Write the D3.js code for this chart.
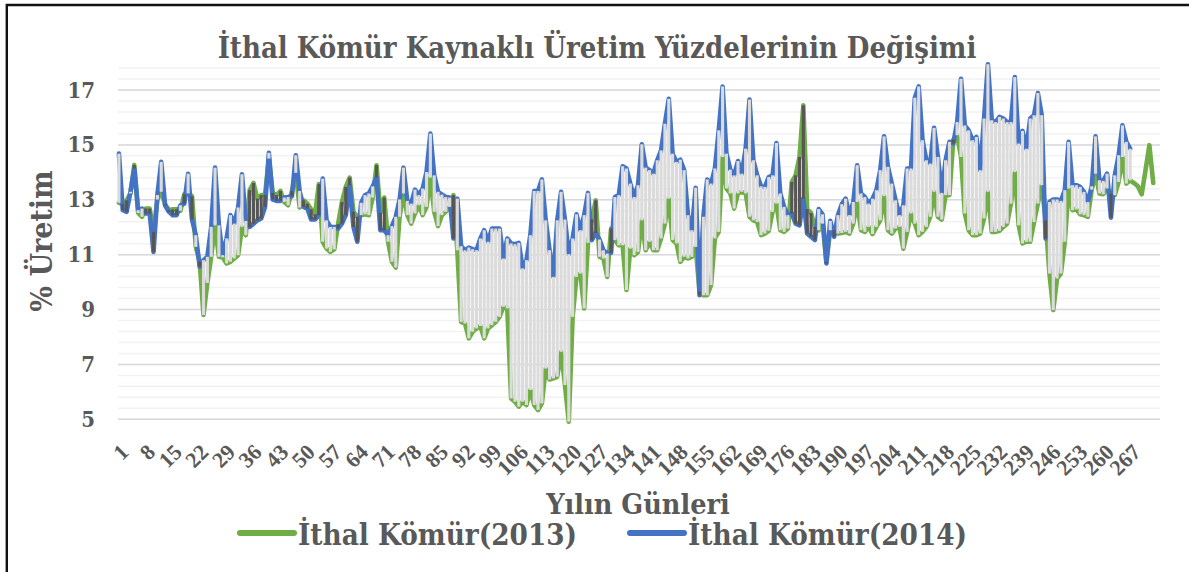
<!DOCTYPE html>
<html>
<head>
<meta charset="utf-8">
<script src="https://d3js.org/d3.v7.min.js"></script>
<style>
  html, body { margin: 0; padding: 0; background: #fff; }
  text { font-family: "DejaVu Serif Condensed", "DejaVu Serif", serif; font-weight: bold; fill: #595959; }
</style>
</head>
<body>
<div id="my_dataviz"></div>
<script>

// values, one per day
var imp2014 = [14.68,12.62,12.56,13.29,14.14,12.62,12.68,12.50,12.50,11.10,13.17,14.38,12.80,12.56,12.44,12.44,12.80,12.86,13.95,12.28,
  11.71,10.56,10.80,10.92,12.01,14.17,12.07,10.98,11.59,12.44,12.13,12.72,13.93,12.23,12.01,12.13,12.25,12.32,12.74,14.71,
  13.01,12.96,12.96,13.08,13.10,13.13,14.62,13.32,12.74,12.68,12.28,12.28,12.44,13.77,12.25,12.01,12.01,11.95,12.13,12.44,
  13.53,12.01,11.47,12.89,13.17,13.23,13.49,13.81,11.89,11.89,11.71,12.04,12.38,13.01,14.17,12.96,12.86,13.37,13.17,13.41,
  14.01,15.41,13.89,13.29,13.19,13.10,13.08,11.59,13.04,11.31,11.16,11.26,11.20,11.16,11.59,11.89,11.47,11.95,11.95,11.95,
  10.86,11.59,11.41,11.38,11.43,10.50,10.80,11.71,13.32,13.32,13.74,12.25,11.16,10.19,12.25,13.29,12.28,11.02,11.59,12.47,
  11.89,12.44,13.25,11.53,11.79,11.55,11.16,11.04,11.07,13.10,13.17,14.22,14.14,13.59,13.10,13.53,15.02,14.17,14.08,13.95,
  14.44,14.80,15.77,16.68,14.68,14.38,14.46,14.08,12.44,11.89,13.44,9.52,12.38,13.74,13.59,14.14,15.53,17.13,14.68,14.10,
  13.89,14.41,13.95,14.86,16.65,14.44,13.89,13.49,13.47,13.83,13.89,15.07,13.23,12.74,12.44,12.50,12.13,12.07,13.04,11.77,
  11.65,11.53,12.66,12.47,10.68,12.23,11.65,12.44,12.84,13.04,12.44,12.92,14.26,13.23,13.10,12.86,13.04,13.35,14.08,15.31,
  14.20,13.59,12.98,12.44,12.80,14.14,14.14,16.72,17.13,15.17,14.44,14.32,15.62,14.56,13.25,14.44,15.11,15.05,15.83,17.41,
  15.71,15.53,15.17,15.29,14.08,15.96,17.94,15.90,15.83,16.02,15.96,15.83,15.83,17.47,15.05,15.51,14.86,15.96,16.08,16.89,
  16.08,11.59,12.92,13.01,13.01,12.96,13.35,15.11,13.53,13.53,13.47,13.29,12.92,13.49,15.31,13.71,13.69,13.95,12.35,13.89,
  14.62,15.71,15.11,14.86]

var imp2013 = [12.89,12.84,12.98,13.23,14.27,12.52,12.38,12.68,12.68,11.83,13.01,13.29,12.84,12.62,12.65,12.65,12.60,13.20,13.23,13.13,
  11.28,10.74,8.80,9.97,10.92,12.07,10.92,10.90,10.68,10.74,10.86,10.98,12.01,11.71,13.35,13.61,13.04,13.17,13.17,14.50,
  13.25,13.17,13.32,12.92,12.80,13.32,13.98,12.72,12.98,12.86,12.65,12.47,13.57,11.47,11.22,11.10,11.19,12.11,12.92,13.47,
  13.81,12.56,12.38,12.44,12.47,12.44,13.08,14.26,12.52,13.08,11.47,10.74,10.53,12.38,13.23,12.44,12.13,12.50,12.80,12.44,
  12.74,13.81,12.56,12.04,12.44,12.56,12.74,13.17,11.16,8.55,8.49,7.95,8.19,8.31,8.40,7.95,8.31,8.43,8.55,8.73,
  9.10,9.04,5.76,5.64,5.46,5.64,5.52,6.07,5.52,5.34,5.58,6.85,6.45,6.49,6.55,7.46,6.25,4.91,8.73,10.19,
  10.31,9.04,11.43,12.28,12.98,10.92,10.86,10.19,11.95,11.53,11.34,11.34,9.71,11.22,10.98,11.10,12.25,11.16,11.47,11.16,
  11.16,11.59,12.13,13.04,11.53,11.41,10.74,10.92,10.86,10.92,11.28,9.65,9.52,9.52,9.89,11.59,11.83,14.56,13.41,13.23,
  12.68,13.23,13.29,13.23,12.38,12.25,12.19,11.71,11.77,11.87,12.56,12.86,11.89,11.83,11.95,13.65,13.89,14.56,16.44,12.66,
  12.52,12.01,11.89,12.13,10.74,11.89,11.89,11.77,11.79,11.83,11.77,12.13,12.92,11.89,11.83,12.01,11.75,12.01,12.25,13.13,
  11.89,11.77,11.95,12.01,11.22,11.83,12.50,12.13,11.71,11.83,12.01,12.38,13.29,12.38,12.28,13.17,13.17,15.19,15.35,14.56,
  12.50,11.89,11.71,11.71,11.77,12.32,13.29,11.83,11.83,11.87,12.01,12.13,12.86,14.01,12.07,11.41,11.47,11.47,12.19,12.86,
  13.53,12.25,10.31,8.98,10.13,10.31,11.47,13.41,12.62,12.65,12.47,12.44,12.38,13.37,13.95,13.23,13.20,13.41,13.23,13.17,
  13.65,14.56,13.59,13.71,13.61,13.49,13.20,14.08,14.99,13.61]

var nDays = 271
var xTickValues = d3.range(1, 268, 7)
var yTickValues = [5,7,9,11,13,15,17]
var minorGrid = d3.range(5, 17.9, 0.4)
var titleText = "İthal Kömür Kaynaklı Üretim Yüzdelerinin Değişimi"
var xTitle = "Yılın Günleri"
var yTitle = "% Üretim"
var legendNames = ["İthal Kömür(2013)", "İthal Kömür(2014)"]
var green = "#70AD47", blue = "#4472C4"

var width = 1189, height = 572

var svg = d3.select("#my_dataviz")
  .append("svg")
    .attr("width", width)
    .attr("height", height)
    .style("display", "block")

// black frame, only left and top are visible in the picture
svg.append("path")
  .attr("d", "M6.8,572V5H1189")
  .attr("fill", "none")
  .attr("stroke", "#111")
  .attr("stroke-width", 2.4)

var days = d3.range(1, nDays + 1)

var x = d3.scaleBand()
  .domain(days)
  .range([117, 1159])

var y = d3.scaleLinear()
  .domain([5, 17])
  .range([419.3, 90])

// gridlines
svg.append("g").selectAll("line")
  .data(minorGrid)
  .enter()
  .append("line")
    .attr("x1", 118).attr("x2", 1160)
    .attr("y1", function(d){ return y(d) })
    .attr("y2", function(d){ return y(d) })
    .attr("stroke", "#F2F2F2")
    .attr("stroke-width", 1.5)

svg.append("g").selectAll("line")
  .data(yTickValues)
  .enter()
  .append("line")
    .attr("x1", 118).attr("x2", 1160)
    .attr("y1", function(d){ return y(d) })
    .attr("y2", function(d){ return y(d) })
    .attr("stroke", "#D9D9D9")
    .attr("stroke-width", 1.5)

// Y axis
svg.append("g")
  .attr("transform", "translate(103,0)")
  .call(d3.axisLeft(y).tickValues(yTickValues).tickSize(0).tickFormat(d3.format("d")))
  .call(function(g){ g.select(".domain").remove() })
  .selectAll("text")
    .attr("x", -8)
    .style("font-size", "22px")
    .style("font-family", "'DejaVu Serif Condensed', 'DejaVu Serif', serif")
    .style("font-weight", "bold")

// X axis, labels sit a little tighter than the days themselves
var xLabel = d3.scaleLinear()
  .domain([1, 267])
  .range([121, 1133])

svg.append("g")
  .attr("transform", "translate(0,419)")
  .call(d3.axisBottom(xLabel)
    .tickValues(xTickValues)
    .tickFormat(d3.format("d"))
    .tickSize(0))
  .call(function(g){ g.select(".domain").remove() })
  .selectAll("text")
    .attr("text-anchor", "end")
    .attr("transform", "translate(3,29) rotate(-45)")
    .attr("x", 0).attr("y", 0).attr("dy", "0.35em")
    .style("font-size", "22px")
    .style("font-family", "'Liberation Serif', serif")
    .style("font-weight", "bold")

// lines
var line = d3.line()
  .x(function(d, i){ return x(i + 1) + x.bandwidth() / 2 })
  .y(function(d){ return y(d) })

svg.append("path")
  .datum(imp2013)
  .attr("fill", "none")
  .attr("stroke", green)
  .attr("stroke-width", 4.6)
  .attr("stroke-linejoin", "round")
  .attr("stroke-linecap", "round")
  .attr("d", line)

svg.append("path")
  .datum(imp2014)
  .attr("fill", "none")
  .attr("stroke", blue)
  .attr("stroke-width", 4.6)
  .attr("stroke-linejoin", "round")
  .attr("stroke-linecap", "round")
  .attr("d", line)

// up/down bars between the two years
svg.append("g").selectAll("rect")
  .data(imp2014)
  .enter()
  .append("rect")
    .attr("x", function(d, i){ return x(i + 1) + 0.35 })
    .attr("width", x.bandwidth() - 0.7)
    .attr("y", function(d, i){ return y(Math.max(d, imp2013[i])) })
    .attr("height", function(d, i){ return Math.abs(y(d) - y(imp2013[i])) })
    .attr("fill", function(d, i){ return d >= imp2013[i] ? "#DBDBDB" : "#565656" })

// titles
svg.append("text")
  .attr("x", 597).attr("y", 58)
  .attr("text-anchor", "middle")
  .style("font-size", "29px")
  .text(titleText)

svg.append("text")
  .attr("x", 638).attr("y", 514)
  .attr("text-anchor", "middle")
  .style("font-size", "28.5px")
  .text(xTitle)

svg.append("text")
  .attr("transform", "translate(52,241) rotate(-90)")
  .attr("text-anchor", "middle")
  .style("font-size", "30px")
  .text(yTitle)

// legend
var legend = svg.append("g").selectAll("g")
  .data(legendNames)
  .enter()
  .append("g")
    .attr("transform", function(d, i){ return "translate(" + (i == 0 ? 238 : 628) + ",0)" })

legend.append("line")
  .attr("x1", 2).attr("x2", 56)
  .attr("y1", 533).attr("y2", 533)
  .attr("stroke", function(d, i){ return i == 0 ? green : blue })
  .attr("stroke-width", 6)
  .attr("stroke-linecap", "round")

legend.append("text")
  .attr("x", 60).attr("y", 545)
  .style("font-size", "29.3px")
  .text(function(d){ return d })

</script>
</body>
</html>
